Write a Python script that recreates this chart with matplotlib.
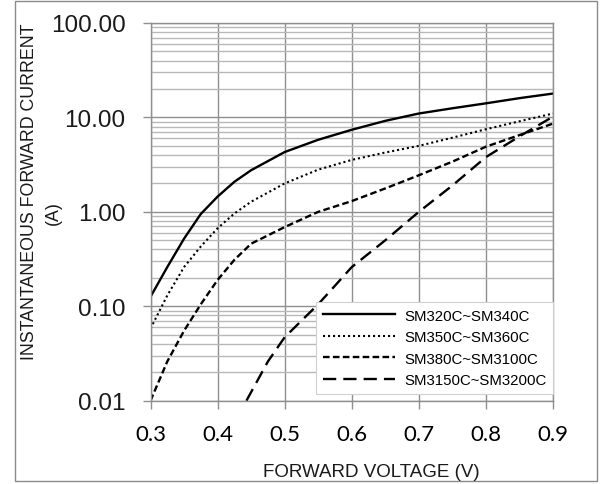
import matplotlib
matplotlib.use('Agg')
import matplotlib.pyplot as plt
from matplotlib.patches import Rectangle
from matplotlib.ticker import FixedLocator, FormatStrFormatter, LogLocator, NullFormatter

# forward voltage (V) and instantaneous forward current (A)
v_main = [0.30, 0.325, 0.35, 0.375, 0.40, 0.425, 0.45, 0.50, 0.55, 0.60, 0.65, 0.70, 0.75, 0.80, 0.85, 0.90]
i_sm320 = [0.126, 0.26, 0.52, 0.95, 1.45, 2.08, 2.76, 4.3, 5.8, 7.4, 9.2, 11.0, 12.5, 14.1, 16.0, 17.9]
i_sm350 = [0.058, 0.13, 0.26, 0.43, 0.67, 0.96, 1.28, 2.0, 2.8, 3.55, 4.25, 5.0, 6.1, 7.5, 9.1, 11.0]
i_sm380 = [0.010, 0.026, 0.055, 0.105, 0.19, 0.31, 0.46, 0.69, 1.0, 1.3, 1.77, 2.44, 3.4, 4.9, 6.5, 8.6]

v_sm3150 = [0.443, 0.475, 0.50, 0.55, 0.60, 0.65, 0.70, 0.75, 0.80, 0.85, 0.90]
i_sm3150 = [0.010, 0.026, 0.047, 0.105, 0.26, 0.50, 1.0, 1.9, 3.8, 6.3, 10.2]

labels = ['SM320C~SM340C', 'SM350C~SM360C', 'SM380C~SM3100C', 'SM3150C~SM3200C']
x_ticks = [0.3, 0.4, 0.5, 0.6, 0.7, 0.8, 0.9]
y_ticks = [0.01, 0.1, 1, 10, 100]

W, H = 601, 485
fig = plt.figure(figsize=(W / 100, H / 100), dpi=100)

# thin gray frame around the whole chart
fig.patches.append(Rectangle((15 / W, 1 - 482 / H), 582 / W, 480 / H,
                             transform=fig.transFigure, fill=False,
                             edgecolor='#8a8a8a', linewidth=1.0))

ax = fig.add_axes([150.5 / W, 1 - 401.7 / H, 402.5 / W, 377.7 / H])
ax.set_yscale('log')
ax.set_xlim(0.3, 0.9)
ax.set_ylim(0.01, 100)

ax.xaxis.set_major_locator(FixedLocator(x_ticks))
ax.xaxis.set_major_formatter(FormatStrFormatter('%.1f'))
ax.yaxis.set_major_locator(FixedLocator(y_ticks))
ax.yaxis.set_major_formatter(FormatStrFormatter('%.2f'))
ax.yaxis.set_minor_locator(LogLocator(base=10, subs=range(2, 10)))
ax.yaxis.set_minor_formatter(NullFormatter())

ax.grid(True, which='major', color='#8f8f8f', linewidth=1.0, zorder=0)
ax.grid(True, which='minor', axis='y', color='#b8b8b8', linewidth=1.0, zorder=0)
ax.set_axisbelow(True)

for s in ax.spines.values():
    s.set_color('#8f8f8f')
    s.set_linewidth(1.0)

ax.tick_params(axis='both', which='major', direction='out', length=6,
               color='#8f8f8f', width=1.0)
ax.tick_params(axis='y', which='minor', length=0)
ax.tick_params(axis='x', pad=11)
ax.tick_params(axis='y', pad=12)
for t in ax.get_xticklabels():
    t.set_fontfamily('Lato')
    t.set_fontsize(16)
for t in ax.get_yticklabels():
    t.set_fontfamily('Liberation Sans')
    t.set_fontsize(17.5)
    t.set_color('#1a1a1a')

ax.plot(v_main, i_sm320, color='black', linewidth=1.7, linestyle='-', label=labels[0])
ax.plot(v_main, i_sm350, color='black', linewidth=1.5, linestyle=(0, (1, 1.4)), label=labels[1])
ax.plot(v_main, i_sm380, color='black', linewidth=1.7, linestyle=(0, (2.8, 1.4)), label=labels[2])
ax.plot(v_sm3150, i_sm3150, color='black', linewidth=1.7, linestyle=(0, (5.6, 3.0)), label=labels[3])

leg = ax.legend(loc='lower right', bbox_to_anchor=(1.0, 0.018), borderaxespad=0,
                prop={'family': 'Liberation Sans', 'size': 10.8},
                handlelength=4.8, handletextpad=0.6, labelspacing=0.5,
                borderpad=0.45, fancybox=False, framealpha=1.0,
                edgecolor='#d0d0d0')
leg.get_frame().set_linewidth(0.8)

fig.text(371 / W, 1 - 477 / H, 'FORWARD VOLTAGE (V)', ha='center', va='baseline',
         fontsize=13.5, family='Liberation Sans', color='#1a1a1a')
fig.text(30 / W, 1 - 192 / H, 'INSTANTANEOUS FORWARD CURRENT', ha='center', va='center',
         rotation=90, fontsize=12.8, family='Liberation Sans', color='#1a1a1a')
fig.text(53 / W, 1 - 213 / H, '(A)', ha='center', va='center',
         rotation=90, fontsize=12.8, family='Liberation Sans', color='#1a1a1a')

fig.savefig('out.png', dpi=100, facecolor='white')
